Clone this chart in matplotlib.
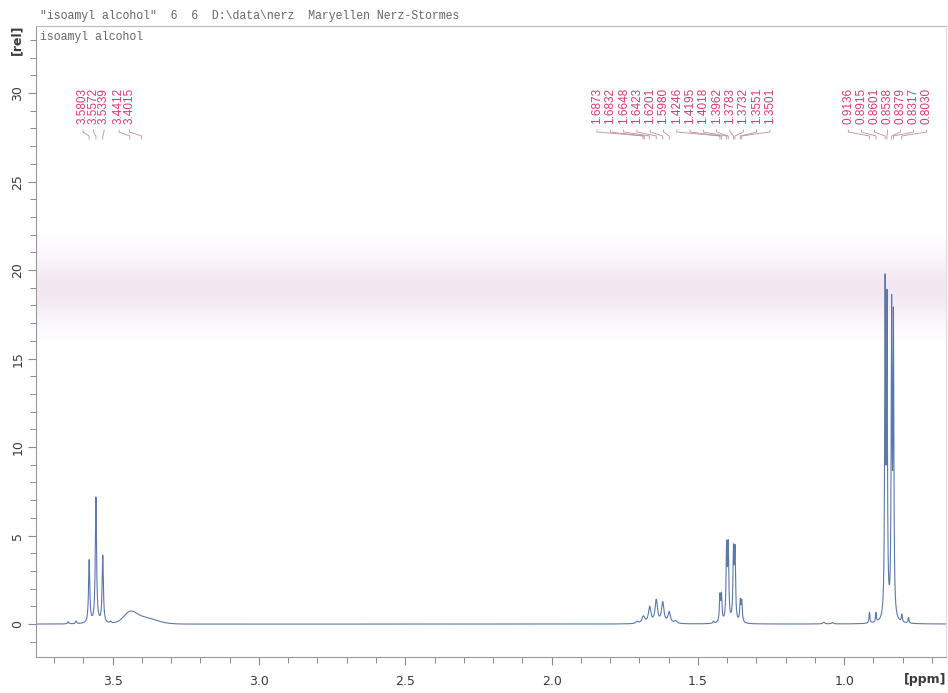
import numpy as np
import matplotlib
matplotlib.use("Agg")
import matplotlib.pyplot as plt
from matplotlib.ticker import MultipleLocator, FormatStrFormatter

# ---- peak data (ppm, height in rel units) ----
ch2o_shift = [3.6520, 3.6250, 3.5803, 3.5572, 3.5339, 3.5070]
ch2o_height = [0.12, 0.15, 3.55, 7.1, 3.8, 0.1]

oh_shift = [3.4412, 3.4015]
oh_height = [0.45, 0.40]
oh_sigma = [0.020, 0.045]

ch_shift = [1.7080, 1.6873, 1.6832, 1.6648, 1.6423, 1.6201, 1.5980, 1.5760]
ch_height = [0.12, 0.30, 0.14, 0.91, 1.29, 1.16, 0.63, 0.15]

ch2_shift = [1.4470, 1.4246, 1.4195, 1.4018, 1.3962, 1.3783, 1.3732, 1.3551, 1.3501]
ch2_height = [0.12, 1.45, 1.45, 4.1, 4.1, 3.8, 3.8, 1.15, 1.15]

misc_shift = [1.0700, 1.0400]
misc_height = [0.10, 0.08]

ch3_shift = [0.9136, 0.8915, 0.8601, 0.8538, 0.8379, 0.8317, 0.8030, 0.7800]
ch3_height = [0.62, 0.52, 18.3, 17.2, 17.0, 16.4, 0.42, 0.32]

# labelled peak lists (as printed above the spectrum)
label_group_1 = [3.5803, 3.5572, 3.5339, 3.4412, 3.4015]
label_group_2 = [1.6873, 1.6832, 1.6648, 1.6423, 1.6201, 1.5980, 1.4246,
                 1.4195, 1.4018, 1.3962, 1.3783, 1.3732, 1.3551, 1.3501]
label_group_3 = [0.9136, 0.8915, 0.8601, 0.8538, 0.8379, 0.8317, 0.8030]

header = '"isoamyl alcohol"  6  6  D:\\data\\nerz  Maryellen Nerz-Stormes'
sample_name = "isoamyl alcohol"

X_LEFT, X_RIGHT = 3.762, 0.652
Y_LOW, Y_HIGH = -1.86, 33.79


def lorentz(x, shifts, heights, hw):
    y = np.zeros_like(x)
    for s, h in zip(shifts, heights):
        y += h / (1.0 + ((x - s) / hw) ** 2)
    return y


def gauss(x, shifts, heights, sigmas):
    y = np.zeros_like(x)
    for s, h, w in zip(shifts, heights, sigmas):
        y += h * np.exp(-0.5 * ((x - s) / w) ** 2)
    return y


ppm = np.linspace(X_LEFT, X_RIGHT, 30000)
spec = (lorentz(ppm, ch2o_shift, ch2o_height, 0.0025)
        + gauss(ppm, oh_shift, oh_height, oh_sigma)
        + lorentz(ppm, ch_shift, ch_height, 0.005)
        + lorentz(ppm, ch2_shift, ch2_height, 0.0022)
        + lorentz(ppm, misc_shift, misc_height, 0.004)
        + lorentz(ppm, ch3_shift, ch3_height, 0.0018))

fig = plt.figure(figsize=(9.48, 6.93), dpi=100)
ax = fig.add_axes([36 / 948, 1 - 657 / 693, 910 / 948, 631 / 693])

# faint pink scan band across the middle
band = np.zeros((200, 1, 4))
t = np.linspace(0, 1, 200)[:, None]
band[..., 0] = 0.93
band[..., 1] = 0.87
band[..., 2] = 0.93
band[..., 3] = 0.7 * np.exp(-0.5 * ((t - 0.5) / 0.22) ** 2)
ax.imshow(band, extent=[0, 1, 0.50, 0.665], transform=ax.transAxes,
          aspect="auto", zorder=0, interpolation="bilinear")

ax.plot(ppm, spec, color="#5b78ab", lw=0.8, zorder=2)

ax.set_xlim(X_LEFT, X_RIGHT)
ax.set_ylim(Y_LOW, Y_HIGH)

ax.xaxis.set_major_locator(MultipleLocator(0.5))
ax.xaxis.set_minor_locator(MultipleLocator(0.1))
ax.xaxis.set_major_formatter(FormatStrFormatter("%.1f"))
ax.yaxis.set_major_locator(MultipleLocator(5))
ax.yaxis.set_minor_locator(MultipleLocator(1))

ax.tick_params(axis="both", which="both", direction="out", color="#8a8a8a",
               labelcolor="#3a3a3a", labelsize=9)
ax.tick_params(axis="both", which="major", length=6, width=0.8)
ax.tick_params(axis="both", which="minor", length=4, width=0.7)
ax.tick_params(axis="x", pad=7)
ax.tick_params(axis="y", labelrotation=90, pad=2.5)
for lab in ax.get_yticklabels():
    lab.set_va("center")

for side, col in [("left", "#999999"), ("bottom", "#999999"),
                  ("top", "#bbbbbb"), ("right", "#dddddd")]:
    ax.spines[side].set_color(col)
    ax.spines[side].set_linewidth(0.8)

# peak labels with leader lines
trans = ax.get_xaxis_transform()


def px_to_ppm(px):
    return X_LEFT - (px - 36) / 910 * (X_LEFT - X_RIGHT)


label_px_1 = [83, 93.5, 104, 119, 129.5]
label_px_2 = [597 + 13.3 * i for i in range(len(label_group_2))]
label_px_3 = [848.3 + 13.07 * i for i in range(len(label_group_3))]

for shifts, pxs in [(label_group_1, label_px_1), (label_group_2, label_px_2),
                    (label_group_3, label_px_3)]:
    for s, px in zip(shifts, pxs):
        lx = px_to_ppm(px)
        ax.text(lx, 0.8447, f"{s:.4f}", rotation=90, ha="center", va="bottom",
                transform=trans, fontsize=8.5, color="#d63a72",
                family="Liberation Sans")
        ax.plot([lx, lx, s, s], [0.8352, 0.832, 0.8257, 0.821],
                transform=trans, color="#b9909f", lw=0.6, clip_on=False)

ax.text(0.0044, 0.9826, sample_name, transform=ax.transAxes, ha="left",
        va="center", fontsize=8.3, family="Liberation Mono", color="#666666")
fig.text(40 / 948, 1 - 16 / 693, header, ha="left", va="center",
         fontsize=8.3, family="Liberation Mono", color="#666666")
fig.text(17 / 948, 1 - 40 / 693, "[rel]", rotation=90, ha="center",
         va="center", fontsize=9, fontweight="bold", color="#3a3a3a")
fig.text(925 / 948, 1 - 680 / 693, "[ppm]", ha="center", va="center",
         fontsize=9, fontweight="bold", color="#3a3a3a")

fig.savefig("out.png", dpi=100)
